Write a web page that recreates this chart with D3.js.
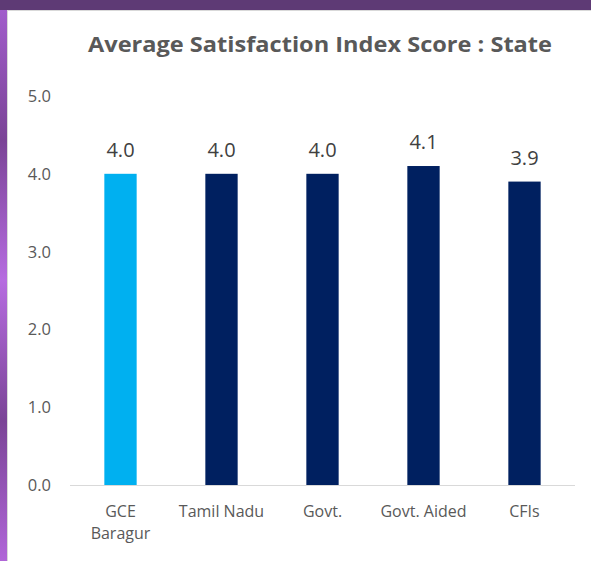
<!DOCTYPE html>
<html>
<head>
<meta charset="utf-8">
<script src="https://cdn.jsdelivr.net/npm/d3@7"></script>
<style>
  body { margin: 0; background: #fff; }
  svg text { font-family: "Open Sans", "Liberation Sans", sans-serif; }
</style>
</head>
<body>
<div id="chart"></div>
<script>
// chart data
var categories = [["GCE", "Baragur"], ["Tamil Nadu"], ["Govt."], ["Govt. Aided"], ["CFIs"]];
var scores = [4.0, 4.0, 4.0, 4.1, 3.9];
var barColors = ["#00b0f0", "#002060", "#002060", "#002060", "#002060"];
var yTicks = [0, 1, 2, 3, 4, 5];

function init() {
    var w = 591;
    var h = 561;

    var svg = d3.select("#chart")
        .append("svg")
        .attr("width", w)
        .attr("height", h);

    // purple frame from the slide
    var grad = svg.append("defs").append("linearGradient")
        .attr("id", "side")
        .attr("x1", 0).attr("y1", 0).attr("x2", 0).attr("y2", 1);
    grad.append("stop").attr("offset", "0%").attr("stop-color", "#a45fcf");
    grad.append("stop").attr("offset", "25%").attr("stop-color", "#7a4496");
    grad.append("stop").attr("offset", "50%").attr("stop-color", "#b66ce0");
    grad.append("stop").attr("offset", "75%").attr("stop-color", "#7a4496");
    grad.append("stop").attr("offset", "100%").attr("stop-color", "#b066d8");

    svg.append("rect").attr("x", 0).attr("y", 0).attr("width", 7).attr("height", h).attr("fill", "url(#side)");
    svg.append("rect").attr("x", 0).attr("y", 0).attr("width", w).attr("height", 10).attr("fill", "#5e3a75");
    svg.append("line").attr("x1", 7.5).attr("x2", 7.5).attr("y1", 10).attr("y2", h).attr("stroke", "#d9d9d9");
    svg.append("line").attr("x1", 7).attr("x2", w).attr("y1", 10.5).attr("y2", 10.5).attr("stroke", "#d9d9d9");

    var x = d3.scaleBand()
        .domain(d3.range(categories.length))
        .range([70, 575])
        .paddingInner(0.68)
        .paddingOuter(0.34);

    var y = d3.scaleLinear()
        .domain([0, 5])
        .range([485, 96]);

    // title
    svg.append("text")
        .attr("x", 320)
        .attr("y", 52)
        .attr("text-anchor", "middle")
        .attr("font-size", "21.5px")
        .attr("font-weight", "bold")
        .attr("fill", "#595959")
        .attr("textLength", 464)
        .attr("lengthAdjust", "spacingAndGlyphs")
        .text("Average Satisfaction Index Score : State");

    // y axis labels (no line)
    svg.selectAll(".ytick")
        .data(yTicks)
        .enter()
        .append("text")
        .attr("class", "ytick")
        .attr("x", 51)
        .attr("y", function (d) { return y(d) + 6; })
        .attr("text-anchor", "end")
        .attr("font-size", "16.5px")
        .attr("fill", "#595959")
        .text(function (d) { return d3.format(".1f")(d); });

    // bars
    svg.selectAll(".bar")
        .data(scores)
        .enter()
        .append("rect")
        .attr("class", "bar")
        .attr("x", function (d, i) { return x(i); })
        .attr("y", function (d) { return y(d); })
        .attr("width", x.bandwidth())
        .attr("height", function (d) { return y(0) - y(d); })
        .attr("fill", function (d, i) { return barColors[i]; });

    // baseline
    svg.append("line")
        .attr("x1", 70).attr("x2", 575)
        .attr("y1", y(0) + 0.5).attr("y2", y(0) + 0.5)
        .attr("stroke", "#d9d9d9");

    // value labels
    svg.selectAll(".val")
        .data(scores)
        .enter()
        .append("text")
        .attr("class", "val")
        .attr("x", function (d, i) { return x(i) + x.bandwidth() / 2; })
        .attr("y", function (d) { return y(d) - 17; })
        .attr("text-anchor", "middle")
        .attr("font-size", "20px")
        .attr("fill", "#404040")
        .text(function (d) { return d3.format(".1f")(d); });

    // category labels
    var cat = svg.selectAll(".cat")
        .data(categories)
        .enter()
        .append("text")
        .attr("class", "cat")
        .attr("x", function (d, i) { return x(i) + x.bandwidth() / 2; })
        .attr("y", 517)
        .attr("text-anchor", "middle")
        .attr("font-size", "16px")
        .attr("fill", "#595959");

    cat.selectAll("tspan")
        .data(function (d) { return d; })
        .enter()
        .append("tspan")
        .attr("x", function () { return d3.select(this.parentNode).attr("x"); })
        .attr("dy", function (d, i) { return i === 0 ? 0 : 22; })
        .text(function (d) { return d; });
}

window.onload = init;
</script>
</body>
</html>
